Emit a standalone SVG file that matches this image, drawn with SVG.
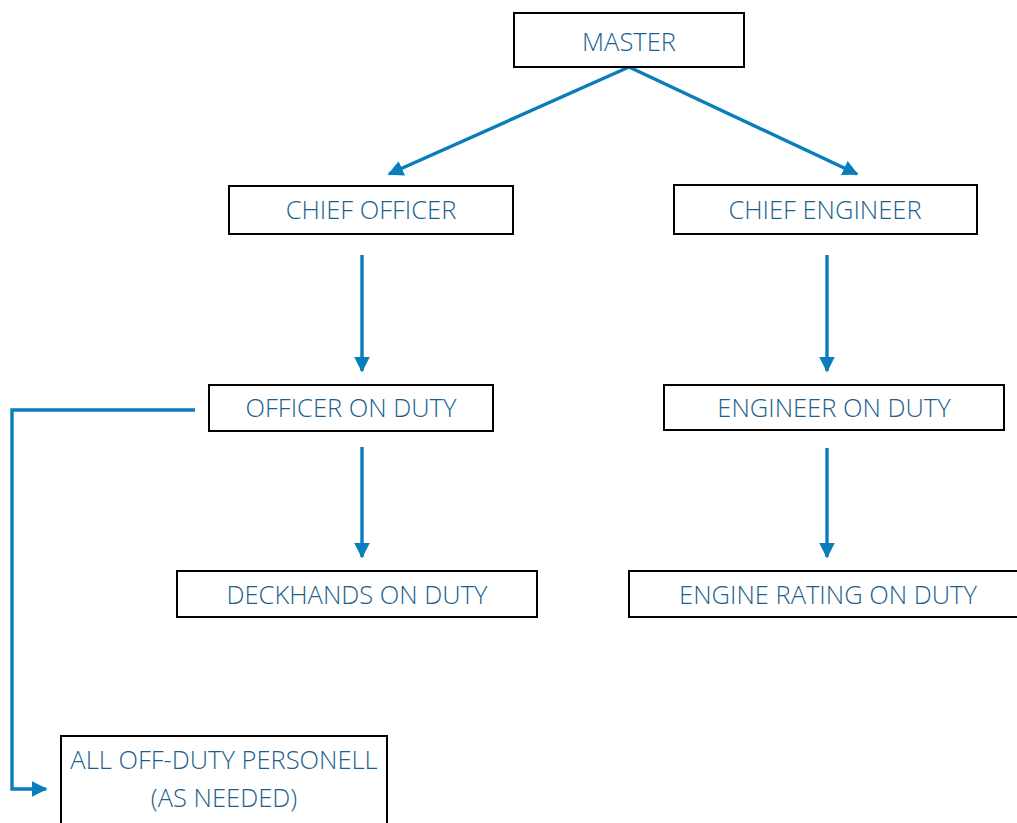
<svg xmlns="http://www.w3.org/2000/svg" width="1017" height="823" viewBox="0 0 1017 823">
<style>
.box{fill:#fff;stroke:#000;stroke-width:2}
.lbl{font-family:"Open Sans","Liberation Sans",sans-serif;font-size:25.5px;font-weight:350;fill:#1b5f8e;text-anchor:middle}
.con{fill:none;stroke:#0a7dbd;stroke-width:3.4}
</style>
<defs>
<marker id="arr" viewBox="0 0 10 10" refX="9" refY="5" markerWidth="4.6" markerHeight="4.6" orient="auto" markerUnits="strokeWidth">
<path d="M0,0 L10,5 L0,10 Z" fill="#0a7dbd"/>
</marker>
</defs>
<rect width="1017" height="823" fill="#fff"/>
<g id="connectors">
<line class="con" x1="629" y1="67" x2="389" y2="174" marker-end="url(#arr)"/>
<line class="con" x1="629" y1="67" x2="857" y2="174" marker-end="url(#arr)"/>
<line class="con" x1="362" y1="255" x2="362" y2="371" marker-end="url(#arr)"/>
<line class="con" x1="827" y1="255" x2="827" y2="371" marker-end="url(#arr)"/>
<line class="con" x1="362" y1="447" x2="362" y2="557" marker-end="url(#arr)"/>
<line class="con" x1="827" y1="448" x2="827" y2="557" marker-end="url(#arr)"/>
<polyline class="con" points="195,410 12,410 12,789 46,789" marker-end="url(#arr)"/>
</g>
<g id="master"><rect class="box" x="514" y="13" width="230" height="54"/><text class="lbl" x="629" y="51">MASTER</text></g>
<g id="chief-officer"><rect class="box" x="229" y="186" width="284" height="48"/><text class="lbl" x="371" y="219">CHIEF OFFICER</text></g>
<g id="chief-engineer"><rect class="box" x="674" y="185" width="303" height="49"/><text class="lbl" x="825" y="219">CHIEF ENGINEER</text></g>
<g id="officer-on-duty"><rect class="box" x="209" y="385" width="284" height="46"/><text class="lbl" x="351" y="417">OFFICER ON DUTY</text></g>
<g id="engineer-on-duty"><rect class="box" x="664" y="385" width="340" height="45"/><text class="lbl" x="834" y="417">ENGINEER ON DUTY</text></g>
<g id="deckhands-on-duty"><rect class="box" x="177" y="571" width="360" height="46"/><text class="lbl" x="357" y="604">DECKHANDS ON DUTY</text></g>
<g id="engine-rating-on-duty"><rect class="box" x="629" y="571" width="400" height="46"/><text class="lbl" x="828" y="604">ENGINE RATING ON DUTY</text></g>
<g id="all-off-duty"><rect class="box" x="61" y="736" width="326" height="100"/><text class="lbl" x="224" y="769">ALL OFF-DUTY PERSONELL</text><text class="lbl" x="224" y="807">(AS NEEDED)</text></g>
</svg>
